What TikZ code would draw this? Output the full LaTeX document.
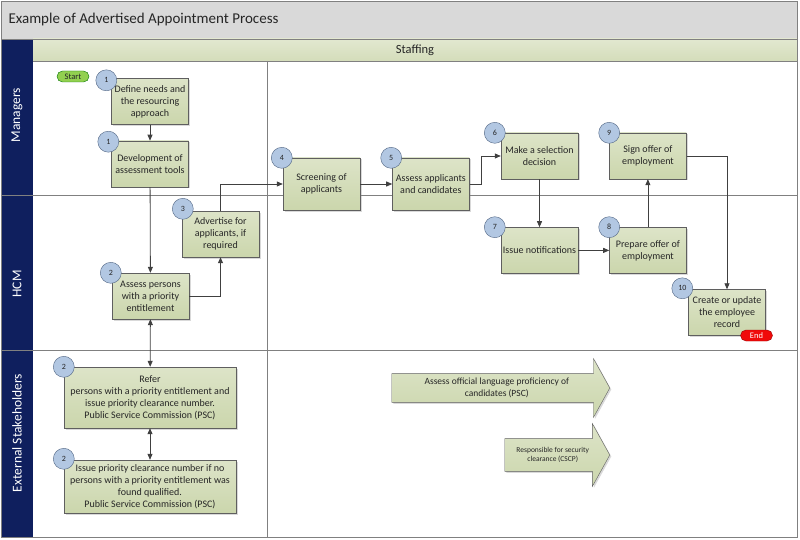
\documentclass[tikz,border=0pt]{standalone}
\usepackage{fontspec}
\setmainfont{Carlito}
\usepackage{xcolor}
\usetikzlibrary{positioning,arrows.meta,shapes.arrows,shadows}

\definecolor{titlegray}{RGB}{217,217,217}
\definecolor{framegray}{RGB}{128,128,128}
\definecolor{lanenavy}{RGB}{15,31,94}
\definecolor{bandtop}{RGB}{226,232,208}
\definecolor{bandbot}{RGB}{212,221,186}
\definecolor{boxtop}{RGB}{221,228,200}
\definecolor{boxbot}{RGB}{203,214,172}
\definecolor{boxline}{RGB}{95,95,95}
\definecolor{badgefill}{RGB}{178,199,226}
\definecolor{badgeline}{RGB}{80,100,130}
\definecolor{lineclr}{RGB}{64,64,64}
\definecolor{startgreen}{RGB}{146,208,80}
\definecolor{endred}{RGB}{240,10,10}

\begin{document}
\begin{tikzpicture}[x=1pt, y=-1pt, node distance=32pt,
  every node/.style={font=\fontsize{10}{12}\selectfont, text=black!85},
  box/.style={draw=boxline, top color=boxtop, bottom color=boxbot, align=center,
    minimum width=77pt, minimum height=46pt, inner sep=1pt,
    drop shadow={shadow xshift=1.5pt, shadow yshift=-1.5pt, opacity=0.3}},
  badge/.style={circle, draw=badgeline, fill=badgefill, minimum size=21pt, inner sep=0pt,
    font=\fontsize{8}{9}\selectfont},
  bigarrow/.style={single arrow, draw=boxline, top color=boxtop, bottom color=boxbot,
    align=center, single arrow head extend=15pt, single arrow tip angle=122, anchor=tip,
    drop shadow={shadow xshift=1.5pt, shadow yshift=-1.5pt, opacity=0.3}},
  lane/.style={rotate=90, text=white, font=\fontsize{13.5}{15}\selectfont},
  term/.style={rounded corners=5.5pt, minimum width=32pt, minimum height=11pt, inner sep=0pt,
    font=\fontsize{8.5}{9}\selectfont},
  sep/.style={draw=framegray, line width=0.9pt},
  flow/.style={draw=lineclr, line width=0.8pt, -{Triangle[length=6pt,width=5pt]}},
  both/.style={flow, {Triangle[length=6pt,width=5pt]}-{Triangle[length=6pt,width=5pt]}}]
\useasboundingbox (0,0) rectangle (800,540);

% frame and lanes
\fill[titlegray] (1,1) rectangle (797,39);
\fill[lanenavy] (1,39) rectangle (33,537);
\shade[top color=bandtop, bottom color=bandbot] (33,39) rectangle (797,61);
\draw[sep] (1,39) -- (797,39);
\draw[sep] (33,61) -- (797,61);
\draw[sep] (1,195) -- (797,195);
\draw[sep] (1,350) -- (797,350);
\draw[sep] (267,61) -- (267,537);
\draw[sep] (1,1) rectangle (797,537);
\node[anchor=west, font=\fontsize{15}{17}\selectfont] (ttl) at (5,20) {Example of Advertised Appointment Process};
\node[font=\fontsize{12.5}{14}\selectfont] (stf) at (415,50) {Staffing};
\node[lane] (mgr) at (17,115) {Managers};
\node[lane] (hcm) at (17,284) {HCM};
\node[lane] (ext) at (17,433) {External Stakeholders};

% steps
\node[box] (def) at (150,101.5) {Define needs and\\the resourcing\\approach};
\node[box, below=16pt of def] (dev) {Development of\\assessment tools};
\node[box] (apr) at (150.5,296) {Assess persons\\with a priority\\entitlement};
\node[box] (adv) at (220.5,234) {Advertise for\\applicants, if\\required};
\node[box, minimum height=52pt] (scr) at (321.5,184) {Screening of\\applicants};
\node[box, minimum height=52pt, right=32pt of scr] (asa) {Assess applicants\\and candidates};
\node[box] (sel) at (539.5,156) {Make a selection\\decision};
\node[box, right=31pt of sel] (sig) {Sign offer of\\employment};
\node[box, below=48pt of sel] (ntf) {Issue notifications};
\node[box, below=48pt of sig] (prp) {Prepare offer of\\employment};
\node[box] (crt) at (727,312.5) {Create or update\\the employee\\record};
\node[box, minimum width=172pt, minimum height=61pt] (ref) at (150,397.5) {Refer\\persons with a priority entitlement and\\issue priority clearance number.\\Public Service Commission (PSC)};
\node[box, minimum width=172pt, minimum height=53pt] (iss) at (150,486.5) {Issue priority clearance number if no\\persons with a priority entitlement was\\found qualified.\\Public Service Commission (PSC)};
\node[bigarrow, minimum height=218pt, inner ysep=4.5pt, font=\fontsize{9.5}{11.5}\selectfont] (lng) at (610,388) {Assess official language proficiency of\\candidates (PSC)};
\node[bigarrow, minimum height=105pt, inner ysep=8.5pt, font=\fontsize{7.5}{9}\selectfont] (sec) at (610,455) {Responsible for security\\clearance (CSCP)};

% start / end
\node[term, draw=green!45!black, fill=startgreen] (start) at (73,76.5) {Start};
\node[term, draw=red!60!black, fill=endred, text=white] (end) at (756.5,335.5) {End};

% connectors
\foreach \i/\j in {def/dev,dev/apr,scr/asa,sel/ntf,ntf/prp,prp/sig}{\draw[flow] (\i) -- (\j);}
\draw[flow] (apr.east) -| (adv.south);
\draw[flow] (adv.north) |- (scr.west);
\draw[flow] (asa.east) -- ++(12,0) |- (sel.west);
\draw[flow] (sig.east) -| (crt.north);
\draw[both] (apr) -- (ref);
\draw[both] (ref) -- (iss);

% step numbers
\node[badge] (n1) at ([shift={(-5,2)}]def.north west) {1};
\node[badge] (n1b) at ([shift={(-3,1)}]dev.north west) {1};
\node[badge] (n2) at ([shift={(-1,0)}]apr.north west) {2};
\node[badge] (n3) at ([shift={(1,-2)}]adv.north west) {3};
\node[badge] (n4) at ([shift={(-1,0)}]scr.north west) {4};
\node[badge] (n5) at ([shift={(-1,0)}]asa.north west) {5};
\node[badge] (n6) at ([shift={(-6,0)}]sel.north west) {6};
\node[badge] (n7) at ([shift={(-6,0)}]ntf.north west) {7};
\node[badge] (n8) at (prp.north west) {8};
\node[badge] (n9) at (sig.north west) {9};
\node[badge] (n10) at ([shift={(-6,-1)}]crt.north west) {10};
\node[badge] (n2b) at (ref.north west) {2};
\node[badge] (n2c) at ([shift={(0,-1)}]iss.north west) {2};
\end{tikzpicture}
\end{document}
